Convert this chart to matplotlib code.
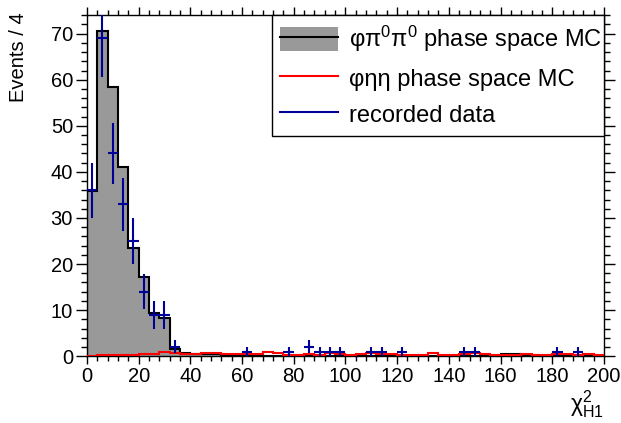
import numpy as np
import matplotlib.pyplot as plt
from matplotlib.patches import Patch
from matplotlib.lines import Line2D

plt.rcParams['font.family'] = ['Liberation Sans', 'DejaVu Sans']
plt.rcParams['mathtext.fontset'] = 'custom'
plt.rcParams['mathtext.rm'] = 'Liberation Sans'
plt.rcParams['mathtext.it'] = 'Liberation Sans:italic'

# chi2 histogram, bin width 4 from 0 to 200
bin_width = 4
edges = np.arange(0, 200 + bin_width, bin_width)

# phi pi0 pi0 phase space MC (scaled)
mc_pipi = [35.8, 70.5, 58.5, 41.0, 23.5, 17.2, 9.4, 8.3, 1.5, 0.6,
           0.5, 0.5, 0.4, 0.3, 0.2, 0.2, 0.1, 0.1, 0.1, 0.1,
           0.1, 0.1, 0.1, 0.1, 0.1, 0.1, 0.1, 0.1, 0.1, 0.1,
           0.1, 0.1, 0.1, 0.1, 0.1, 0.1, 0.1, 0.1, 0.1, 0.1,
           0.4, 0.4, 0.1, 0.1, 0.1, 0.1, 0.1, 0.1, 0.1, 0.1]

# phi eta eta phase space MC (scaled)
mc_etaeta = [0.1, 0.2, 0.2, 0.3, 0.3, 0.4, 0.5, 0.8, 0.6, 0.5,
             0.5, 0.6, 0.6, 0.4, 0.5, 0.4, 0.4, 0.8, 0.7, 0.3,
             0.3, 0.5, 0.3, 0.6, 0.4, 0.3, 0.4, 0.6, 0.5, 0.4,
             0.3, 0.3, 0.3, 0.6, 0.3, 0.3, 0.5, 0.7, 0.4, 0.3,
             0.3, 0.2, 0.4, 0.3, 0.2, 0.4, 0.5, 0.3, 0.4, 0.3]

# recorded data (bin centres, counts)
data_x = [2, 6, 10, 14, 18, 22, 26, 30, 34, 62, 78, 86, 90, 94, 98,
          110, 114, 122, 146, 150, 182, 190]
data_n = [36, 69, 44, 33, 25, 14, 9, 9, 2, 1, 1, 2, 1, 1, 1,
          1, 1, 1, 1, 1, 1, 1]

fig = plt.figure(figsize=(6.21, 4.23), dpi=100)
ax = fig.add_axes([0.140, 0.158, 0.8325, 0.806])

ax.stairs(mc_pipi, edges, fill=True, color='#999999', zorder=1)
ax.stairs(mc_pipi, edges, color='black', linewidth=1.5, zorder=2)
ax.stairs(mc_etaeta, edges, baseline=None, color='red', linewidth=1.5, zorder=3)
ax.errorbar(data_x, data_n, xerr=bin_width / 2, yerr=np.sqrt(data_n), fmt='none',
            ecolor='#000099', elinewidth=1.5, capsize=0, zorder=4)

ax.set_xlim(0, 200)
ax.set_ylim(0, 74)
ax.set_xticks(range(0, 201, 20))
ax.set_xticks(range(0, 201, 4), minor=True)
ax.set_yticks(range(0, 71, 10))
ax.set_yticks(range(0, 75, 2), minor=True)
ax.tick_params(axis='both', which='both', direction='out', top=True, right=True,
               labelsize=14.5, width=1)
ax.tick_params(axis='x', which='major', length=6, pad=2)
ax.tick_params(axis='x', which='minor', length=3.5)
ax.tick_params(axis='y', which='major', length=8, pad=2)
ax.tick_params(axis='y', which='minor', length=4)
for s in ax.spines.values():
    s.set_linewidth(1)

fig.text(0.045, 0.97, 'Events / 4', rotation=90, ha='right', va='top', fontsize=14.5)
fig.text(0.972, 0.008, 'χ$^{2}_{\\mathrm{H1}}$', ha='right', va='bottom', fontsize=16.5)

handles = [(Patch(facecolor='#999999', edgecolor='none'), Line2D([], [], color='black', lw=1.5)),
           Line2D([], [], color='red', lw=1.5),
           Line2D([], [], color='#000099', lw=1.5)]
labels = ['φπ$^{0}$π$^{0}$ phase space MC', 'φηη phase space MC', 'recorded data']
leg = ax.legend(handles, labels, loc='upper left', bbox_to_anchor=(0.358, 0.642, 0.642, 0.358),
                mode='expand', fontsize=17, frameon=True, fancybox=False, borderaxespad=0,
                handlelength=2.45, handleheight=1.2, labelspacing=0.5, borderpad=0.35,
                handletextpad=0.45)
leg.get_frame().set_edgecolor('black')
leg.get_frame().set_linewidth(1)
leg.get_frame().set_alpha(1)

fig.savefig('out.png', dpi=100)
